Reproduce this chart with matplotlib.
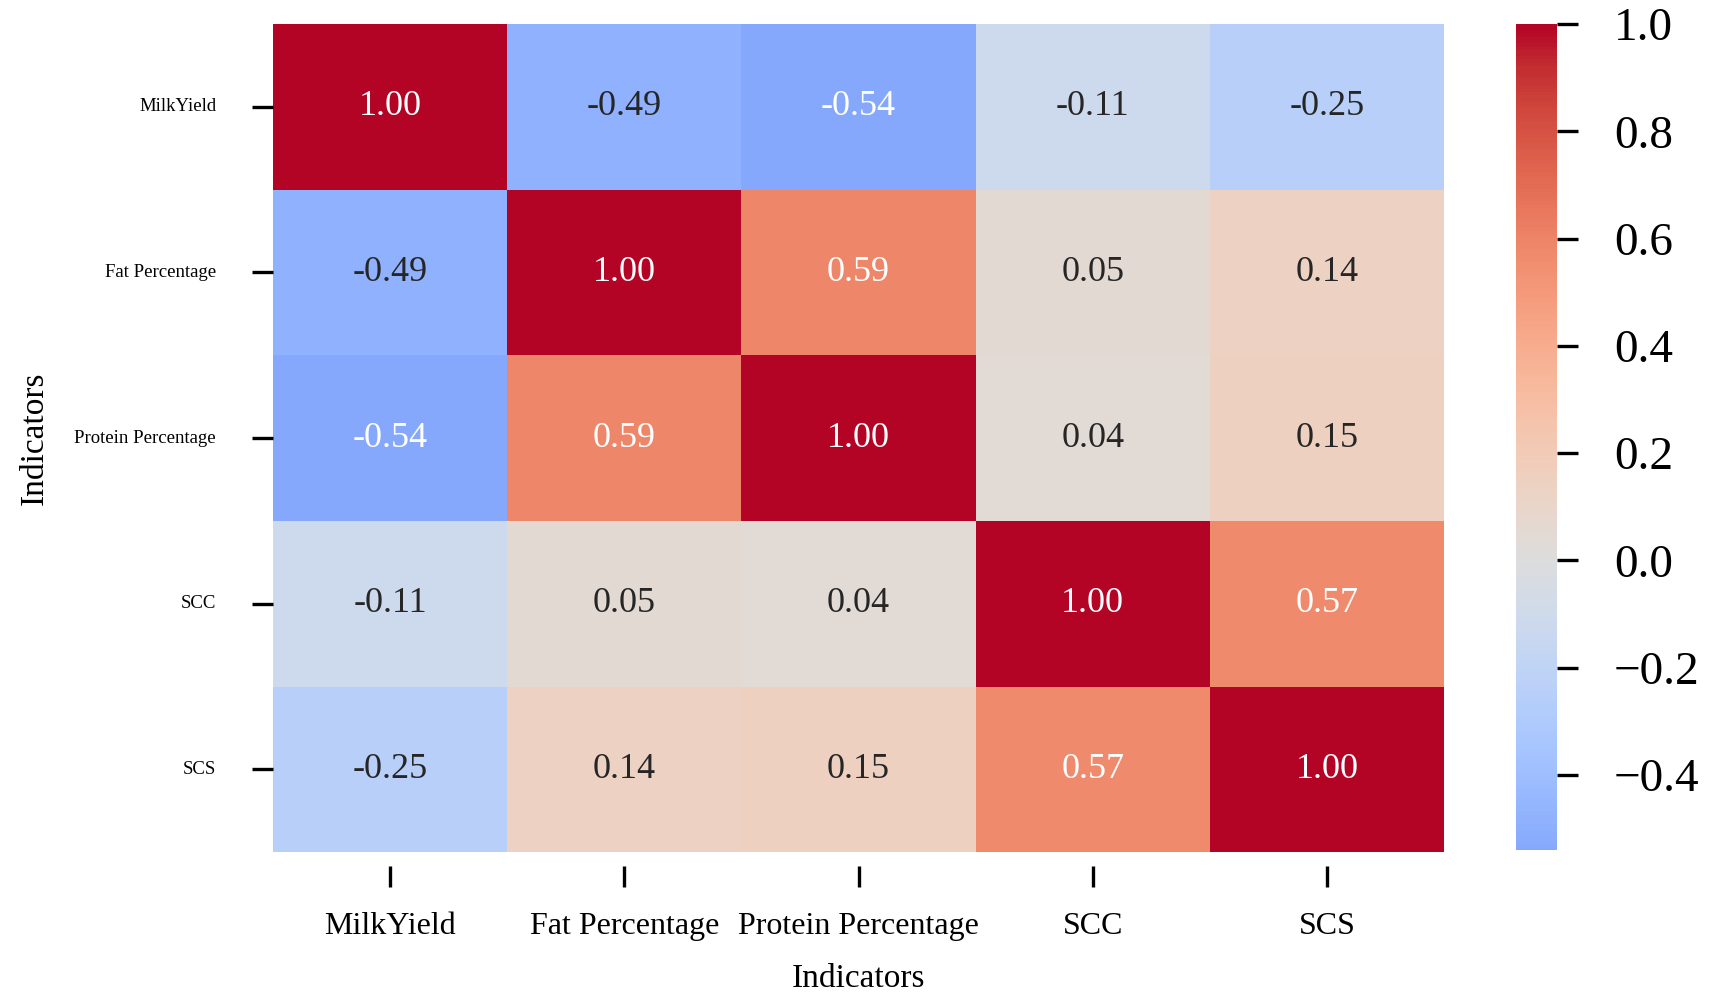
import numpy as np
import pandas as pd
import seaborn as sns
import matplotlib
matplotlib.use('Agg')
import matplotlib.pyplot as plt

# correlation matrix
indicators = ['MilkYield', 'Fat Percentage', 'Protein Percentage', 'SCC', 'SCS']
milk_yield = [1.00, -0.49, -0.54, -0.11, -0.25]
fat_pct = [-0.49, 1.00, 0.59, 0.05, 0.14]
protein_pct = [-0.54, 0.59, 1.00, 0.04, 0.15]
scc = [-0.11, 0.05, 0.04, 1.00, 0.57]
scs = [-0.25, 0.14, 0.15, 0.57, 1.00]

corr = pd.DataFrame([milk_yield, fat_pct, protein_pct, scc, scs],
                    index=indicators, columns=indicators)

plt.rcParams['font.family'] = ['Liberation Serif', 'DejaVu Serif']
plt.rcParams['mathtext.fontset'] = 'stix'

fig = plt.figure(figsize=(17.13, 9.99), dpi=100)
ax = fig.add_axes([0.1594, 0.147, 0.6836, 0.829])
cax = fig.add_axes([0.885, 0.149, 0.024, 0.827])

sns.heatmap(corr, ax=ax, cbar_ax=cax, cmap='coolwarm', center=0,
            annot=True, fmt='.2f', annot_kws={'fontsize': 26})

ax.set_xlabel('Indicators', fontsize=24, labelpad=16)
ax.set_ylabel('Indicators', fontsize=24, labelpad=18)

ax.tick_params(axis='x', labelsize=23, length=15, width=2.4, pad=18, color='black')
ax.tick_params(axis='y', labelsize=13.5, length=15, width=2.4, pad=26, color='black')
ax.spines['bottom'].set_position(('outward', 10))
plt.setp(ax.get_yticklabels(), rotation=0)
plt.setp(ax.get_xticklabels(), rotation=0)

cax.tick_params(labelsize=34, length=15, width=2.4, pad=26)
cax.set_yticks([-0.4, -0.2, 0.0, 0.2, 0.4, 0.6, 0.8, 1.0])

fig.savefig('out.png', dpi=100)
